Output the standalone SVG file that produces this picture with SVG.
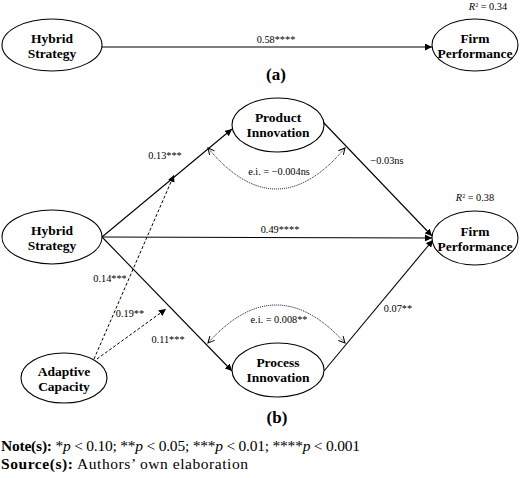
<svg xmlns="http://www.w3.org/2000/svg" width="520" height="478" viewBox="0 0 520 478">
<style>
.node ellipse{fill:#fff;stroke:#000;stroke-width:1.1}
.nt{font-weight:bold;font-size:13.5px;text-anchor:middle;fill:#000}
.el{font-size:10.3px;text-anchor:middle;fill:#000}
.ln{stroke:#000;stroke-width:1.1;fill:none}
.dash{stroke:#000;stroke-width:1;fill:none;stroke-dasharray:3,2}
.dot{stroke:#000;stroke-width:1;fill:none;stroke-dasharray:1,1}
.pl{font-weight:bold;font-size:17px;text-anchor:middle}
.note{font-size:15.5px}
</style>
<defs>
<marker id="ah" viewBox="0 0 10 10" refX="10" refY="5" markerWidth="7" markerHeight="7" markerUnits="userSpaceOnUse" orient="auto"><path d="M0,0 L10,5 L0,10 z" fill="#000"/></marker>
<marker id="ov" viewBox="0 0 10 10" refX="9" refY="5" markerWidth="8" markerHeight="8" markerUnits="userSpaceOnUse" orient="auto-start-reverse"><path d="M1,1 L9,5 L1,9" fill="none" stroke="#000" stroke-width="1.3"/></marker>
</defs>
<g font-family="Liberation Serif, Times New Roman, serif">
<g id="connectors">
<line class="ln" x1="102" y1="47" x2="432" y2="47" marker-end="url(#ah)"/>
<line class="ln" x1="102" y1="237" x2="232" y2="129" marker-end="url(#ah)"/>
<line class="ln" x1="102" y1="237" x2="432" y2="238" marker-end="url(#ah)"/>
<line class="ln" x1="102" y1="237" x2="232" y2="371" marker-end="url(#ah)"/>
<line class="ln" x1="323" y1="122" x2="432" y2="236" marker-end="url(#ah)"/>
<line class="ln" x1="324" y1="371" x2="433" y2="240" marker-end="url(#ah)"/>
<line class="dash" x1="94" y1="359" x2="174" y2="175" marker-end="url(#ah)"/>
<line class="dash" x1="97" y1="359" x2="166" y2="309" marker-end="url(#ah)"/>
<path class="dot" d="M208,148 Q276,230 345,148" marker-start="url(#ov)" marker-end="url(#ov)"/>
<path class="dot" d="M208,343 Q276,267 345,343" marker-start="url(#ov)" marker-end="url(#ov)"/>
</g>
<g id="labels">
<text class="el" x="276" y="43">0.58****</text>
<text class="el" x="488" y="10"><tspan font-style="italic">R</tspan><tspan font-size="6" dy="-3">2</tspan><tspan dy="3"> = 0.34</tspan></text>
<text class="pl" x="276" y="80">(a)</text>
<text class="el" x="165" y="159">0.13***</text>
<text class="el" x="280" y="233">0.49****</text>
<text class="el" x="110" y="282">0.14***</text>
<text class="el" x="130" y="317">0.19**</text>
<text class="el" x="168" y="343">0.11***</text>
<text class="el" x="387" y="164">−0.03ns</text>
<text class="el" x="398" y="312">0.07**</text>
<text class="el" x="475" y="201"><tspan font-style="italic">R</tspan><tspan font-size="6" dy="-3">2</tspan><tspan dy="3"> = 0.38</tspan></text>
<text class="el" x="279" y="175">e.i. = −0.004ns</text>
<text class="el" x="279" y="323">e.i. = 0.008**</text>
<text class="pl" x="277" y="423">(b)</text>
<text class="note" x="1" y="451" textLength="359" lengthAdjust="spacing"><tspan font-weight="bold">Note(s):</tspan> *<tspan font-style="italic">p</tspan> &lt; 0.10; **<tspan font-style="italic">p</tspan> &lt; 0.05; ***<tspan font-style="italic">p</tspan> &lt; 0.01; ****<tspan font-style="italic">p</tspan> &lt; 0.001</text>
<text class="note" x="1" y="469" textLength="247" lengthAdjust="spacing"><tspan font-weight="bold">Source(s):</tspan> Authors’ own elaboration</text>
</g>
<g id="a-hybrid" class="node"><ellipse cx="52" cy="45" rx="50" ry="26"/><text class="nt" x="52" y="43">Hybrid</text><text class="nt" x="52" y="58">Strategy</text></g>
<g id="a-firm" class="node"><ellipse cx="475" cy="45" rx="43" ry="26"/><text class="nt" x="475" y="43">Firm</text><text class="nt" x="475" y="58">Performance</text></g>
<g id="b-product" class="node"><ellipse cx="278" cy="125" rx="46" ry="27"/><text class="nt" x="278" y="122">Product</text><text class="nt" x="278" y="137">Innovation</text></g>
<g id="b-hybrid" class="node"><ellipse cx="52" cy="237" rx="50" ry="27"/><text class="nt" x="52" y="235">Hybrid</text><text class="nt" x="52" y="250">Strategy</text></g>
<g id="b-firm" class="node"><ellipse cx="475" cy="238" rx="43" ry="27"/><text class="nt" x="475" y="236">Firm</text><text class="nt" x="475" y="251">Performance</text></g>
<g id="b-adaptive" class="node"><ellipse cx="64" cy="378" rx="43" ry="25"/><text class="nt" x="64" y="376">Adaptive</text><text class="nt" x="64" y="391">Capacity</text></g>
<g id="b-process" class="node"><ellipse cx="278" cy="370" rx="46" ry="27"/><text class="nt" x="278" y="367">Process</text><text class="nt" x="278" y="382">Innovation</text></g>
</g>
</svg>
